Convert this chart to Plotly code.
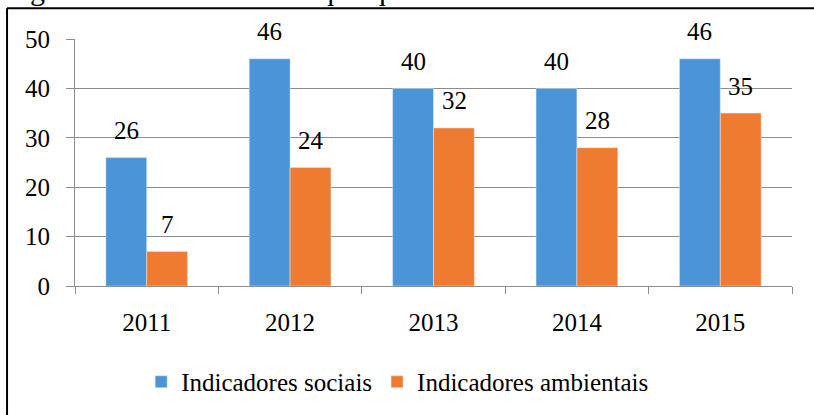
import plotly.graph_objects as go

anos = ["2011", "2012", "2013", "2014", "2015"]
sociais = [26, 46, 40, 40, 46]
ambientais = [7, 24, 32, 28, 35]
nomes = ["Indicadores sociais", "Indicadores ambientais"]
cores = ["#4C94D8", "#EE7B30"]

fonte = dict(family="Liberation Serif", size=25, color="black")

fig = go.Figure()
fig.add_trace(go.Bar(x=anos, y=sociais, name=nomes[0], marker_color=cores[0]))
fig.add_trace(go.Bar(x=anos, y=ambientais, name=nomes[1], marker_color=cores[1]))

# rotulos de dados acima das barras (x = indice da categoria)
for serie, desloc in ((sociais, -20.5), (ambientais, 20.5)):
    for i, v in enumerate(serie):
        fig.add_annotation(x=i, y=v, text=str(v), showarrow=False, font=fonte,
                           xshift=desloc, yshift=27, yanchor="middle")

# legenda da figura (cortada no topo)
fig.add_annotation(x=-0.0948, y=1, xref="paper", yref="paper", xanchor="left", yanchor="bottom",
                   text="Figura 6 – Indicadores de qualquer em 2011 e 2015.", showarrow=False,
                   font=dict(family="Liberation Serif", size=30, color="black"), yshift=31, xshift=-4)

# moldura
fig.add_shape(type="line", xref="paper", yref="paper", x0=-0.0948, x1=1.1, y0=1.125, y1=1.125,
              line=dict(color="black", width=2))
fig.add_shape(type="line", xref="paper", yref="paper", x0=-0.0948, x1=-0.0948, y0=1.125, y1=-0.6,
              line=dict(color="black", width=2))

fig.update_layout(
    width=814, height=415,
    margin=dict(l=75, r=22, t=39, b=128),
    plot_bgcolor="white", paper_bgcolor="white",
    barmode="group", bargap=0.43, bargroupgap=0,
    font=fonte,
    showlegend=True,
    legend=dict(orientation="h", x=0.45, xanchor="center", y=-0.383, yanchor="middle",
                font=fonte, itemwidth=30, traceorder="normal"),
)
fig.update_yaxes(range=[0, 50], dtick=10, showgrid=True, gridcolor="#8c8c8c", gridwidth=1,
                 showline=True, linecolor="#8c8c8c", ticks="outside", ticklen=8, tickcolor="#8c8c8c",
                 ticklabelstandoff=11, zeroline=False, tickfont=fonte)
fig.update_xaxes(type="category", range=[-0.5, 4.5], showline=True, linecolor="#8c8c8c",
                 ticks="outside", ticklen=7, tickcolor="#8c8c8c", tickson="boundaries",
                 tickfont=fonte, ticklabelstandoff=14)

# sem margem da pagina, para a figura comecar no canto
fig.write_html("out.html", config={"displayModeBar": False},
               post_script="document.body.style.margin='0';")
